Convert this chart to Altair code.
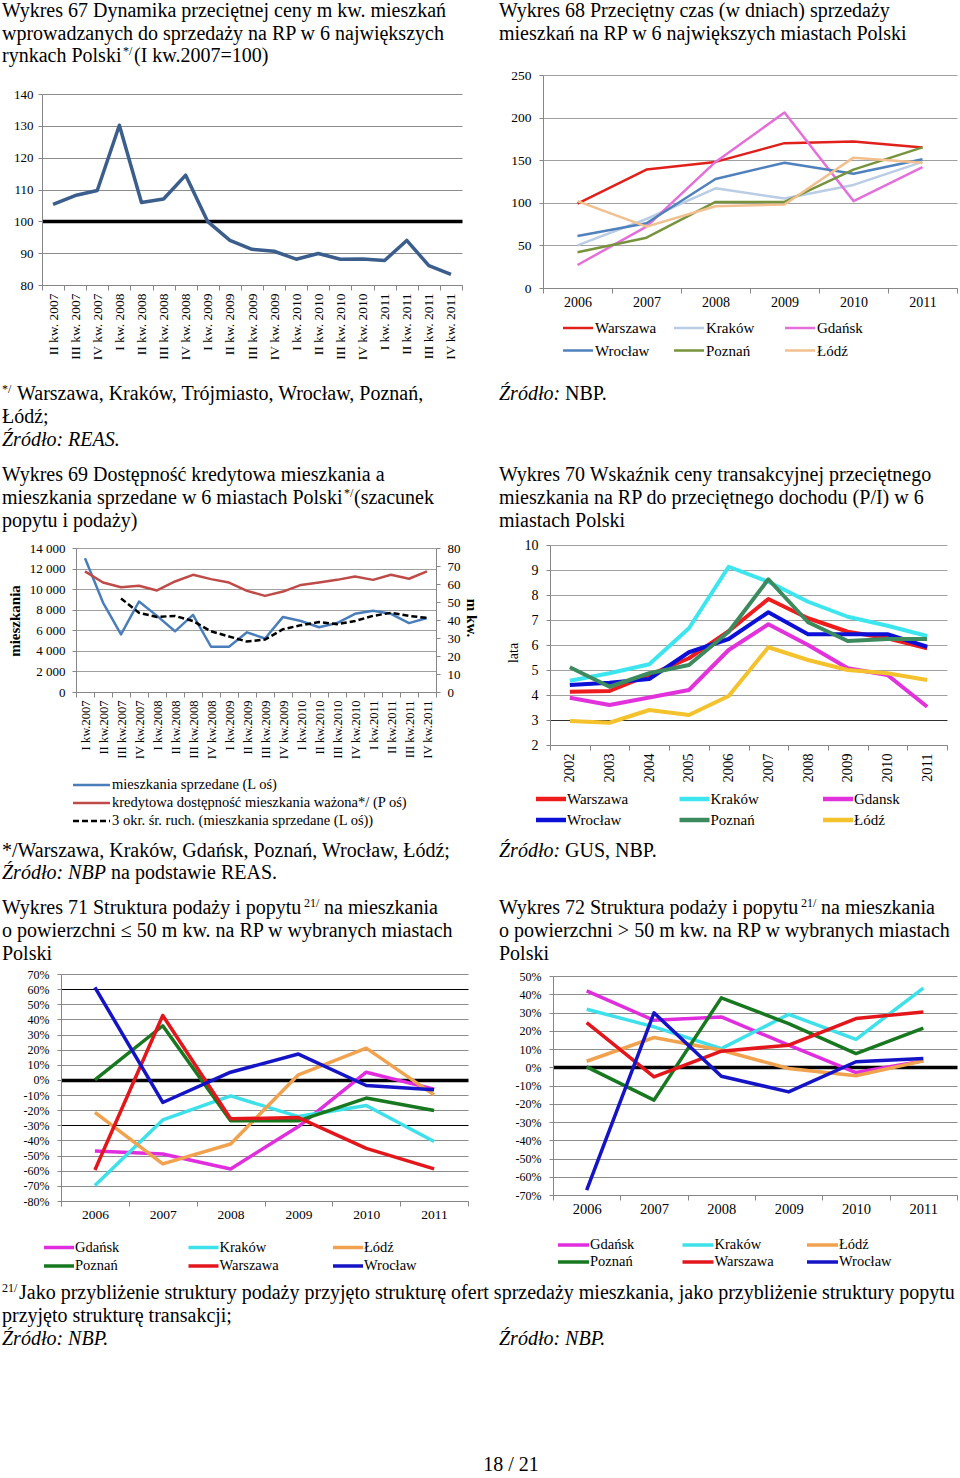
import altair as alt
import pandas as pd

FONT = "Liberation Serif"
W, H = 960, 1478

# ---------------- data ----------------
# Wykres 67
q67 = ["II kw. 2007", "III kw. 2007", "IV kw. 2007", "I kw. 2008", "II kw. 2008", "III kw. 2008",
       "IV kw. 2008", "I kw. 2009", "II kw. 2009", "III kw. 2009", "IV kw. 2009", "I kw. 2010",
       "II kw. 2010", "III kw. 2010", "IV kw. 2010", "I kw. 2011", "II kw. 2011", "III kw. 2011",
       "IV kw. 2011"]
idx67 = [105.3, 108.1, 109.7, 130.2, 105.9, 107.0, 114.5, 99.9, 94.0, 91.2, 90.6, 88.1, 89.9,
         88.1, 88.2, 87.7, 94.0, 86.1, 83.3]

# Wykres 68
years68 = ["2006", "2007", "2008", "2009", "2010", "2011"]
cities68 = ["Warszawa", "Kraków", "Gdańsk", "Wrocław", "Poznań", "Łódź"]
warszawa68 = [99, 139, 148, 170, 172, 165]
krakow68 = [50, 81, 117, 105, 121, 148]
gdansk68 = [27, 72, 148, 206, 102, 142]
wroclaw68 = [61, 76, 128, 147, 134, 151]
poznan68 = [42, 59, 101, 101, 139, 165]
lodz68 = [102, 72, 96, 98, 153, 147]
colors68 = ["#E0201B", "#B9CDE5", "#E46FDA", "#4F81BD", "#77933C", "#F2C08E"]

# Wykres 69
q69 = ["I kw.2007", "II kw.2007", "III kw.2007", "IV kw.2007", "I kw.2008", "II kw.2008",
       "III kw.2008", "IV kw.2008", "I kw.2009", "II kw.2009", "III kw.2009", "IV kw.2009",
       "I kw.2010", "II kw.2010", "III kw.2010", "IV kw.2010", "I kw.2011", "II kw.2011",
       "III kw.2011", "IV kw.2011"]
sold69 = [13000, 8700, 5600, 8800, 7400, 5900, 7500, 4400, 4400, 5800, 5200, 7300, 6900, 6300,
          6700, 7600, 7900, 7600, 6700, 7200]
credit69 = [67.0, 60.8, 58.2, 59.0, 56.4, 61.4, 65.1, 62.7, 60.8, 56.2, 53.4, 55.8, 59.5, 60.8,
            62.3, 64.2, 62.3, 65.1, 62.9, 67.0]
ma69_q = q69[2:]
ma69 = [9100, 7700, 7300, 7400, 6900, 5900, 5400, 4900, 5100, 6100, 6500, 6800, 6600, 6900,
        7400, 7700, 7400, 7200]
names69 = ["mieszkania sprzedane (L oś)",
           "kredytowa dostępność mieszkania ważona*/ (P oś)",
           "3 okr. śr. ruch. (mieszkania sprzedane (L oś))"]
colors69 = ["#4A7EBB", "#BE4B48", "#000000"]

# Wykres 70
years70 = ["2002", "2003", "2004", "2005", "2006", "2007", "2008", "2009", "2010", "2011"]
cities70 = ["Warszawa", "Kraków", "Gdansk", "Wrocław", "Poznań", "Łódź"]
warszawa70 = [4.13, 4.16, 4.80, 5.47, 6.55, 7.84, 7.07, 6.53, 6.27, 5.87]
krakow70 = [4.57, 4.87, 5.23, 6.67, 9.13, 8.53, 7.73, 7.13, 6.77, 6.36]
gdansk70 = [3.89, 3.60, 3.90, 4.20, 5.80, 6.83, 6.00, 5.07, 4.80, 3.53]
wroclaw70 = [4.40, 4.49, 4.64, 5.71, 6.24, 7.31, 6.43, 6.43, 6.43, 5.93]
poznan70 = [5.11, 4.33, 4.87, 5.20, 6.53, 8.63, 6.91, 6.16, 6.24, 6.24]
lodz70 = [2.96, 2.89, 3.40, 3.20, 3.96, 5.91, 5.40, 5.00, 4.87, 4.60]
colors70 = ["#EE1C1C", "#3DE6EE", "#E232DC", "#0C10D6", "#3D8A5E", "#F3C22C"]

# Wykres 71 / 72
years71 = ["2006", "2007", "2008", "2009", "2010", "2011"]
cities71 = ["Gdańsk", "Kraków", "Łódź", "Poznań", "Warszawa", "Wrocław"]
colors71 = ["#E02EDF", "#3EE0EA", "#F0A24F", "#18781F", "#E3161C", "#1414C6"]
gdansk71 = [-46.9, -48.9, -58.8, -30.8, 5.1, -6.1]
krakow71 = [-69.8, -26.4, -10.5, -24.2, -16.9, -40.7]
lodz71 = [-21.5, -55.5, -42.3, 3.4, 21.0, -9.9]
poznan71 = [0.0, 35.8, -27.0, -27.0, -12.0, -20.2]
warszawa71 = [-59.5, 42.6, -25.7, -24.9, -45.2, -58.8]
wroclaw71 = [61.2, -14.9, 5.1, 17.1, -3.7, -6.5]

gdansk72 = [41.8, 25.7, 27.6, 12.1, -2.9, 3.5]
krakow72 = [31.8, 22.1, 10.2, 29.0, 15.3, 43.4]
lodz72 = [3.3, 16.3, 9.3, -0.7, -4.7, 3.5]
poznan72 = [0.2, -18.0, 38.0, 23.9, 7.5, 21.5]
warszawa72 = [24.5, -5.3, 8.8, 12.1, 26.7, 30.3]
wroclaw72 = [-67.3, 29.8, -4.9, -13.5, 3.0, 4.8]


def long_df(cats, names, series):
    rows = []
    for name, vals in zip(names, series):
        for i, (c, v) in enumerate(zip(cats, vals)):
            rows.append({"cat": c, "name": name, "value": v, "i": i})
    return pd.DataFrame(rows)


df67 = pd.DataFrame({"cat": q67, "value": idx67, "i": range(len(q67))})
df68 = long_df(years68, cities68, [warszawa68, krakow68, gdansk68, wroclaw68, poznan68, lodz68])
df69a = pd.DataFrame({"cat": q69, "value": sold69, "i": range(len(q69))})
df69b = pd.DataFrame({"cat": q69, "value": credit69, "i": range(len(q69))})
df69c = pd.DataFrame({"cat": ma69_q, "value": ma69, "i": range(len(ma69_q))})
df70 = long_df(years70, cities70, [warszawa70, krakow70, gdansk70, wroclaw70, poznan70, lodz70])
df71 = long_df(years71, cities71, [gdansk71, krakow71, lodz71, poznan71, warszawa71, wroclaw71])
df72 = long_df(years71, cities71, [gdansk72, krakow72, lodz72, poznan72, warszawa72, wroclaw72])

# ---------------- helpers ----------------
AX = "#868686"
GRID = "#a0a0a0"


def xenc(cats, x0, x1, axis):
    return alt.X("cat:N", scale=alt.Scale(type="band", domain=cats, range=[x0, x1],
                                          paddingInner=0, paddingOuter=0),
                 axis=axis, bandPosition=0.5)


def yenc(dom, y0, y1, axis):
    return alt.Y("value:Q", scale=alt.Scale(domain=dom, range=[y0, y1], nice=False, zero=False),
                 axis=axis)


def xaxis(bottom, angle, size, pad):
    return alt.Axis(orient="bottom", offset=bottom - H, labelAngle=angle, labelFontSize=size,
                    labelPadding=pad, tickBand="extent", tickSize=5, grid=False, title=None,
                    labelOverlap=False, domainColor=AX, tickColor=AX, labelColor="#000",
                    labelFont=FONT)


def yaxis(left, values, size, pad, grid=True, gridColor=GRID, gridWidth=1, orient="left",
          labelExpr=None):
    kw = dict(orient=orient, offset=(-left if orient == "left" else left - W), values=values,
              labelFontSize=size, labelPadding=pad, tickSize=4, grid=grid, title=None,
              labelOverlap=False, domainColor=AX, tickColor=AX, labelColor="#000",
              labelFont=FONT)
    if grid:
        kw["gridColor"] = gridColor
        kw["gridWidth"] = gridWidth
    if labelExpr:
        kw["labelExpr"] = labelExpr
    return alt.Axis(**kw)


def cond(test, a, b):
    return {"condition": {"test": test, "value": a}, "value": b}


def legend_layers(names, colors, x0, y0, stepx, stepy, ncols, symlen, gap, size, sw, dashes=None):
    rows = []
    for k, n in enumerate(names):
        c, r = k % ncols, k // ncols
        sx = x0 + c * stepx
        rows.append({"name": n, "sx": sx, "ex": sx + symlen, "tx": sx + symlen + gap,
                     "ty": y0 + r * stepy})
    d = pd.DataFrame(rows)
    enc = dict(x=alt.X("sx:Q", scale=None), x2="ex:Q", y=alt.Y("ty:Q", scale=None),
               color=alt.Color("name:N", scale=alt.Scale(domain=names, range=colors), legend=None))
    if dashes is not None:
        enc["strokeDash"] = alt.StrokeDash("name:N", scale=alt.Scale(domain=names, range=dashes),
                                           legend=None)
    sym = alt.Chart(d).mark_rule(strokeWidth=sw).encode(**enc)
    txt = alt.Chart(d).mark_text(align="left", baseline="middle", font=FONT, fontSize=size,
                                 color="#000").encode(
        x=alt.X("tx:Q", scale=None), y=alt.Y("ty:Q", scale=None), text="name:N")
    return [sym, txt]


layers = []

# ---- Wykres 67
layers.append(alt.Chart(df67).mark_line(color="#3B5E8C", strokeWidth=3.5, strokeJoin="round").encode(
    x=xenc(q67, 42, 462, xaxis(285, -90, 13.5, 3)),
    y=yenc([80, 140], 285, 94, yaxis(42, list(range(80, 141, 10)), 13, 5,
                                     gridColor=cond("datum.value === 100", "#000000", "#8c8c8c"),
                                     gridWidth=cond("datum.value === 100", 3.5, 1))),
    order="i:Q"))

# ---- Wykres 68
layers.append(alt.Chart(df68).mark_line(strokeWidth=2.5, strokeJoin="round").encode(
    x=xenc(years68, 543, 957, xaxis(288, 0, 14, 2)),
    y=yenc([0, 250], 288, 75, yaxis(543, list(range(0, 251, 50)), 13.5, 8)),
    color=alt.Color("name:N", scale=alt.Scale(domain=cities68, range=colors68), legend=None),
    order="i:Q"))
layers += legend_layers(cities68, colors68, 563, 328, 111, 22.5, 3, 30, 2, 15, 2.5)

# ---- Wykres 69
layers.append(alt.Chart(df69a).mark_line(color=colors69[0], strokeWidth=2.5, strokeJoin="round").encode(
    x=xenc(q69, 76, 436, xaxis(692, -90, 12.5, 3)),
    y=yenc([0, 14000], 692, 548, yaxis(76, list(range(0, 14001, 2000)), 13, 7,
                                       labelExpr="replace(format(datum.value, ','), ',', ' ')")),
    order="i:Q"))
layers.append(alt.Chart(df69b).mark_line(color=colors69[1], strokeWidth=2.5, strokeJoin="round").encode(
    x=xenc(q69, 76, 436, None),
    y=yenc([0, 80], 692, 548, yaxis(436, list(range(0, 81, 10)), 13, 7, grid=False,
                                    orient="right")),
    order="i:Q"))
layers.append(alt.Chart(df69c).mark_line(color=colors69[2], strokeWidth=2.5, strokeDash=[6, 3]).encode(
    x=xenc(q69, 76, 436, None),
    y=yenc([0, 14000], 692, 548, None),
    order="i:Q"))
layers += legend_layers(names69, colors69, 73, 785, 0, 18, 1, 37, 2, 14.5, 2.5,
                        dashes=[[1, 0], [1, 0], [6, 3]])

# ---- Wykres 70
layers.append(alt.Chart(df70).mark_line(strokeWidth=4, strokeJoin="round").encode(
    x=xenc(years70, 550, 947, xaxis(745, -90, 14.5, 3)),
    y=yenc([2, 10], 745, 545, yaxis(550, list(range(2, 11)), 14, 8,
                                    gridColor=cond("datum.value === 3", "#303030", GRID))),
    color=alt.Color("name:N", scale=alt.Scale(domain=cities70, range=colors70), legend=None),
    order="i:Q"))
layers += legend_layers(cities70, colors70, 536, 799, 143.5, 21, 3, 30, 1, 15, 4.5)

# ---- Wykres 71
layers.append(alt.Chart(df71).mark_line(strokeWidth=3.5, strokeJoin="round").encode(
    x=xenc(years71, 61, 468, xaxis(1201, 0, 13.5, 1)),
    y=yenc([-80, 70], 1201, 974, yaxis(61, list(range(-80, 71, 10)), 12, 8,
                                       gridColor=cond("datum.value === 0 || datum.value === 60 || datum.value === -30",
                                                      "#000000", "#8c8c8c"),
                                       gridWidth=cond("datum.value === 0", 3.5, 1),
                                       labelExpr="datum.value + '%'")),
    color=alt.Color("name:N", scale=alt.Scale(domain=cities71, range=colors71), legend=None),
    order="i:Q"))
layers += legend_layers(cities71, colors71, 44, 1247.5, 144.5, 18.5, 3, 30, 1, 14.5, 3.5)

# ---- Wykres 72
layers.append(alt.Chart(df72).mark_line(strokeWidth=3.5, strokeJoin="round").encode(
    x=xenc(years71, 553, 957, xaxis(1195, 0, 14.5, 2)),
    y=yenc([-70, 50], 1195, 976, yaxis(553, list(range(-70, 51, 10)), 12, 8,
                                       gridColor=cond("datum.value === 0", "#000000", "#8c8c8c"),
                                       gridWidth=cond("datum.value === 0", 3.5, 1),
                                       labelExpr="datum.value + '%'")),
    color=alt.Color("name:N", scale=alt.Scale(domain=cities71, range=colors71), legend=None),
    order="i:Q"))
layers += legend_layers(cities71, colors71, 558, 1245, 124.5, 17, 3, 31, 1, 14.5, 3.5)

# ---------------- page text ----------------
normal_txt = [
    ("Wykres 67 Dynamika przeciętnej ceny m kw. mieszkań", 2, 17),
    ("wprowadzanych do sprzedaży na RP w 6 największych", 2, 40),
    ("rynkach Polski", 2, 62),
    ("(I kw.2007=100)", 134, 62),
    ("Wykres 68 Przeciętny czas (w dniach) sprzedaży", 499, 17),
    ("mieszkań na RP w 6 największych miastach Polski", 499, 40),
    ("Warszawa, Kraków, Trójmiasto, Wrocław, Poznań,", 17, 400),
    ("Łódź;", 2, 423),
    ("NBP.", 565, 400),
    ("Wykres 69 Dostępność kredytowa  mieszkania a", 2, 481),
    ("mieszkania sprzedane w 6 miastach Polski", 2, 504),
    ("(szacunek", 354, 504),
    ("popytu i podaży)", 2, 527),
    ("Wykres 70 Wskaźnik ceny transakcyjnej przeciętnego", 499, 481),
    ("mieszkania na RP do przeciętnego dochodu (P/I) w 6", 499, 504),
    ("miastach Polski", 499, 527),
    ("*/Warszawa, Kraków, Gdańsk, Poznań, Wrocław, Łódź;", 2, 857),
    ("na podstawie REAS.", 111, 879),
    ("GUS, NBP.", 565, 857),
    ("Wykres 71 Struktura podaży i popytu", 2, 914),
    ("na mieszkania", 324, 914),
    ("o powierzchni ≤ 50 m kw. na RP w wybranych miastach", 2, 937),
    ("Polski", 2, 960),
    ("Wykres 72 Struktura podaży i popytu", 499, 914),
    ("na mieszkania", 821, 914),
    ("o powierzchni > 50 m kw. na RP w wybranych miastach", 499, 937),
    ("Polski", 499, 960),
    ("przyjęto strukturę transakcji;", 2, 1322),
    ("Jako przybliżenie struktury podaży przyjęto strukturę ofert sprzedaży mieszkania, "
     "jako przybliżenie struktury popytu", 19, 1299),
]
italic_txt = [
    ("Źródło: REAS.", 2, 446),
    ("Źródło:", 499, 400),
    ("Źródło: NBP", 2, 879),
    ("Źródło:", 499, 857),
    ("Źródło: NBP.", 2, 1345),
    ("Źródło: NBP.", 499, 1345),
]
sup_txt = [
    ("*/", 123, 55), ("*/", 2, 393), ("*/", 344, 497),
    ("21/", 304, 907), ("21/", 801, 907), ("21/", 2, 1292),
]


def text_layer(items, **mk):
    d = pd.DataFrame(items, columns=["text", "x", "y"])
    return alt.Chart(d).mark_text(font=FONT, color="#000", **mk).encode(
        x=alt.X("x:Q", scale=None), y=alt.Y("y:Q", scale=None), text="text:N")


layers.append(text_layer(normal_txt, align="left", baseline="alphabetic", fontSize=20))
layers.append(text_layer(italic_txt, align="left", baseline="alphabetic", fontSize=20,
                         fontStyle="italic"))
layers.append(text_layer(sup_txt, align="left", baseline="alphabetic", fontSize=12))
layers.append(text_layer([("18 / 21", 511, 1471)], align="center", baseline="alphabetic",
                         fontSize=20))
layers.append(text_layer([("mieszkania", 15, 621)], align="center", baseline="middle",
                         fontSize=15, fontWeight="bold", angle=270))
layers.append(text_layer([("m kw.", 472, 618)], align="center", baseline="middle",
                         fontSize=15, fontWeight="bold", angle=90))
layers.append(text_layer([("lata", 514, 653)], align="center", baseline="middle",
                         fontSize=14, angle=270))

chart = alt.layer(*layers).resolve_scale(
    x="independent", y="independent", color="independent", strokeDash="independent"
).resolve_axis(x="independent", y="independent").properties(
    width=W, height=H, padding=0, autosize=alt.AutoSizeParams(type="none"), background="white"
).configure_view(stroke=None)

chart.save("out.html", embed_options={"renderer": "svg", "actions": False})
